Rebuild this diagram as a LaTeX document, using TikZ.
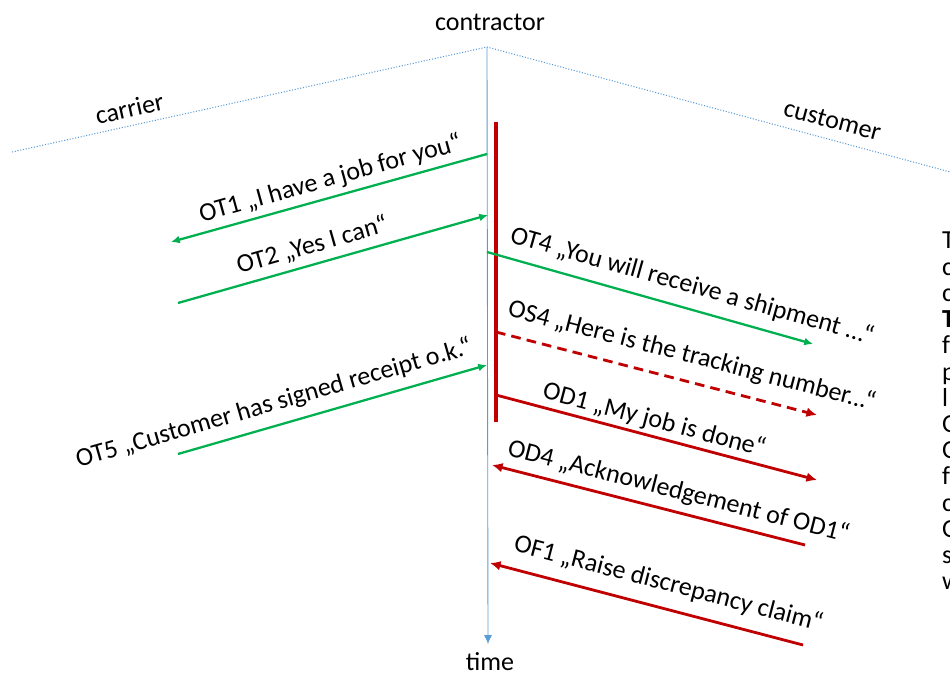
\documentclass[tikz,border=0pt]{standalone}
\usepackage{fontspec}
\setmainfont{Carlito}
\usetikzlibrary{arrows.meta}

\definecolor{okgreen}{RGB}{0,176,80}
\definecolor{darkred}{RGB}{192,0,0}
\definecolor{axisblue}{RGB}{91,155,213}

\begin{document}
\begin{tikzpicture}[x=0.02cm, y=-0.02cm,
        every node/.style={font=\fontsize{14.8}{17}\selectfont, inner sep=1pt, text height=10.5pt, text depth=3.2pt},
        greenline/.style={draw=okgreen, line width=1.3pt},
        redline/.style={draw=darkred, line width=1.6pt},
        greenend/.style={-{Latex[length=5pt,width=4.5pt]}},
        greenstart/.style={{Latex[length=5pt,width=4.5pt]}-},
        redend/.style={-{Latex[length=6pt,width=5.5pt]}},
        redstart/.style={{Latex[length=6pt,width=5.5pt]}-},
        msglabel/.style={sloped, above=#1},
        roleline/.style={draw=axisblue, line width=0.6pt, densely dotted}]

        \useasboundingbox (0,0) rectangle (950,675);
        \clip (0,0) rectangle (950,675);

        % roles
        \coordinate (apex) at (487,47);
        \coordinate (carrierend) at (12,152);
        \coordinate (customerend) at (965,176);
        \coordinate (timeend) at (488,644);

        \draw[roleline] (carrierend) -- (apex) -- (customerend);
        \draw[axisblue, line width=0.5pt, -{Latex[length=5pt,width=4.5pt]}] (apex) -- (timeend);

        \node (contractor) at (490,24) {contractor};
        \node (time) at (490,664) {time};
        \node[rotate=12.5] (carrier) at (130,111) {carrier};
        \node[rotate=-15] (customer) at (832,122) {customer};

        % contractor is busy
        \coordinate (bartop) at (496,122);
        \coordinate (barbottom) at (496,422);
        \draw[darkred, line width=1.9pt] (bartop) -- (barbottom);

        % carrier side
        \coordinate (ot1a) at (171,242);
        \coordinate (ot1b) at (487,154);
        \coordinate (ot2a) at (178,303);
        \coordinate (ot2b) at (488,215);
        \coordinate (ot5a) at (178,454);
        \coordinate (ot5b) at (487,365);

        \draw[greenline, greenstart] (ot1a) -- node[msglabel=1.3pt, pos=0.52] {OT1 „I have a job for you“} (ot1b);
        \draw[greenline, greenend] (ot2a) -- node[msglabel=1.5pt, pos=0.45] {OT2 „Yes I can“} (ot2b);
        \draw[greenline, greenend] (ot5a) -- node[msglabel=3.5pt, pos=0.33] {OT5 „Customer has signed receipt o.k.“} (ot5b);

        % customer side
        \coordinate (ot4a) at (487,252);
        \coordinate (ot4b) at (813,344);
        \coordinate (os4a) at (496,332);
        \coordinate (os4b) at (817,415);
        \coordinate (od1a) at (496,395);
        \coordinate (od1b) at (817,480);
        \coordinate (od4a) at (492,465);
        \coordinate (od4b) at (805,545);
        \coordinate (of1a) at (490,563);
        \coordinate (of1b) at (803,645);

        \draw[greenline, greenend] (ot4a) -- node[msglabel=4pt, pos=0.61] {OT4 „You will receive a shipment ...“} (ot4b);
        \draw[redline, redend, dash pattern=on 5.5pt off 3.5pt] (os4a) -- node[msglabel=5.5pt, pos=0.59] {OS4 „Here is the tracking number...“} (os4b);
        \draw[redline, redend] (od1a) -- node[msglabel=0pt, pos=0.48] {OD1 „My job is done“} (od1b);
        \draw[redline, redstart] (od4a) -- node[msglabel=2.5pt, pos=0.58] {OD4 „Acknowledgement of OD1“} (od4b);
        \draw[redline, redstart] (of1a) -- node[msglabel=5pt, pos=0.55] {OF1 „Raise discrepancy claim“} (of1b);

        % text cut off at the right border
        \foreach \ch [count=\i] in {T,c,c,{\textbf{T}},f,p,l,O,O,f,c,O,s,w}
            \node[anchor=base west] (side\i) at (940,{249+26.2*(\i-1)}) {\ch};
    \end{tikzpicture}
\end{document}
